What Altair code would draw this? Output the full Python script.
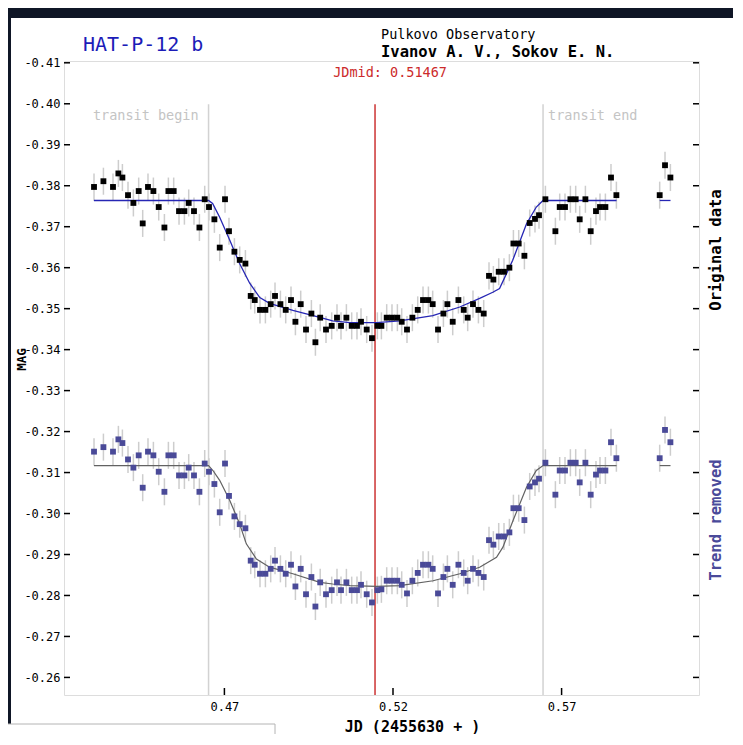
import altair as alt
import pandas as pd

# ---------------- data ----------------
jd = [0.43133, 0.43412, 0.43696, 0.43856, 0.43975, 0.44141, 0.44301, 0.44458, 0.44577, 0.44734,
      0.44894, 0.45052, 0.45221, 0.45339, 0.45496, 0.45654, 0.45814, 0.45941, 0.46098, 0.46259,
      0.46416, 0.46543, 0.46703, 0.46861, 0.47018, 0.47136, 0.47297, 0.47454, 0.47623, 0.47780,
      0.47899, 0.48056, 0.48216, 0.48373, 0.48501, 0.48661, 0.48818, 0.48975, 0.49106, 0.49263,
      0.49420, 0.49580, 0.49699, 0.49841, 0.50013, 0.50182, 0.50339, 0.50458, 0.50618, 0.50775,
      0.50932, 0.51051, 0.51220, 0.51377, 0.51537, 0.51656, 0.51813, 0.51970, 0.52130, 0.52258,
      0.52415, 0.52575, 0.52733, 0.52890, 0.53050, 0.53177, 0.53335, 0.53495, 0.53613, 0.53771,
      0.53940, 0.54097, 0.54215, 0.54372, 0.54533, 0.54690, 0.54847, 0.54977, 0.55135, 0.55292,
      0.55452, 0.55571, 0.55728, 0.55897, 0.56054, 0.56211, 0.56330, 0.56520, 0.56816, 0.56944,
      0.57101, 0.57261, 0.57418, 0.57537, 0.57706, 0.57863, 0.58020, 0.58139, 0.58299, 0.58465,
      0.58625, 0.59909, 0.60067, 0.60227]

mag_original = [-0.3797, -0.3811, -0.3797, -0.3830, -0.3820, -0.3777, -0.3758, -0.3787, -0.3708, -0.3797,
                -0.3787, -0.3748, -0.3698, -0.3787, -0.3787, -0.3738, -0.3738, -0.3758, -0.3738, -0.3698,
                -0.3767, -0.3748, -0.3718, -0.3649, -0.3767, -0.3689, -0.3639, -0.3619, -0.3610, -0.3531,
                -0.3521, -0.3497, -0.3497, -0.3511, -0.3531, -0.3511, -0.3497, -0.3521, -0.3468, -0.3511,
                -0.3449, -0.3488, -0.3418, -0.3478, -0.3449, -0.3458, -0.3478, -0.3458, -0.3478, -0.3458,
                -0.3458, -0.3468, -0.3449, -0.3428, -0.3458, -0.3458, -0.3478, -0.3478, -0.3478, -0.3468,
                -0.3449, -0.3478, -0.3497, -0.3521, -0.3521, -0.3511, -0.3449, -0.3488, -0.3511, -0.3468,
                -0.3521, -0.3497, -0.3478, -0.3511, -0.3497, -0.3488, -0.3580, -0.3571, -0.3590, -0.3590,
                -0.3600, -0.3659, -0.3659, -0.3629, -0.3709, -0.3719, -0.3728, -0.3767, -0.3689, -0.3748,
                -0.3748, -0.3767, -0.3767, -0.3718, -0.3767, -0.3689, -0.3738, -0.3748, -0.3748, -0.3820,
                -0.3777, -0.3777, -0.3850, -0.3820]

mag_trend_removed = [-0.3151, -0.3162, -0.3151, -0.3181, -0.3172, -0.3132, -0.3112, -0.3142, -0.3063, -0.3151,
                     -0.3142, -0.3102, -0.3053, -0.3142, -0.3142, -0.3093, -0.3093, -0.3112, -0.3093, -0.3053,
                     -0.3122, -0.3102, -0.3072, -0.3003, -0.3122, -0.3043, -0.2993, -0.2974, -0.2964, -0.2885,
                     -0.2875, -0.2853, -0.2853, -0.2865, -0.2885, -0.2865, -0.2853, -0.2875, -0.2822, -0.2865,
                     -0.2803, -0.2845, -0.2773, -0.2832, -0.2803, -0.2813, -0.2832, -0.2813, -0.2832, -0.2813,
                     -0.2813, -0.2826, -0.2803, -0.2783, -0.2813, -0.2815, -0.2836, -0.2836, -0.2836, -0.2826,
                     -0.2805, -0.2836, -0.2855, -0.2875, -0.2875, -0.2865, -0.2805, -0.2845, -0.2865, -0.2826,
                     -0.2875, -0.2855, -0.2836, -0.2865, -0.2855, -0.2845, -0.2935, -0.2924, -0.2944, -0.2944,
                     -0.2954, -0.3013, -0.3013, -0.2984, -0.3066, -0.3076, -0.3085, -0.3124, -0.3046, -0.3105,
                     -0.3105, -0.3124, -0.3124, -0.3076, -0.3124, -0.3046, -0.3095, -0.3105, -0.3105, -0.3174,
                     -0.3135, -0.3135, -0.3204, -0.3174]

mag_error = 0.0033

model_jd = [0.4313, 0.4653, 0.4665, 0.4686, 0.4716, 0.4745, 0.4775, 0.4805, 0.4834, 0.4903,
            0.4983, 0.5021, 0.5072, 0.5151, 0.5220, 0.5318, 0.5398, 0.5457, 0.5496, 0.5516,
            0.5555, 0.5596, 0.5625, 0.5645, 0.5863, 0.5991, 0.6023]
model_original = [-0.3764, -0.3764, -0.3757, -0.3723, -0.3667, -0.3610, -0.3562, -0.3527, -0.3513, -0.3496,
                  -0.3479, -0.3470, -0.3466, -0.3466, -0.3470, -0.3483, -0.3504, -0.3525, -0.3540, -0.3549,
                  -0.3618, -0.3707, -0.3748, -0.3764, -0.3764, -0.3764, -0.3764]
model_segment = [1] * 25 + [2] * 2

trend_model_jd = [0.4313, 0.4653, 0.4666, 0.4686, 0.4716, 0.4745, 0.4765, 0.4795, 0.4834, 0.4903,
                  0.4983, 0.5021, 0.5072, 0.5151, 0.5220, 0.5319, 0.5398, 0.5457, 0.5507, 0.5526,
                  0.5556, 0.5596, 0.5625, 0.5645, 0.5863, 0.5991, 0.6023]
trend_model = [-0.3117, -0.3117, -0.3105, -0.3081, -0.3032, -0.2975, -0.2926, -0.2889, -0.2869, -0.2853,
               -0.2832, -0.2828, -0.2824, -0.2822, -0.2824, -0.2836, -0.2853, -0.2869, -0.2893, -0.2918,
               -0.2983, -0.3064, -0.3105, -0.3117, -0.3117, -0.3117, -0.3117]
trend_segment = [1] * 25 + [2] * 2

transit_begin = 0.4653
transit_end = 0.5645
jd_mid = 0.51467
marker_top = -0.3999

y_ticks = [-0.41, -0.40, -0.39, -0.38, -0.37, -0.36, -0.35, -0.34,
           -0.33, -0.32, -0.31, -0.30, -0.29, -0.28, -0.27, -0.26]
x_ticks = [0.47, 0.52, 0.57]

# ---------------- chart ----------------
FONT = "DejaVu Sans Mono"
W, H = 635, 634
X_DOM = [0.42243, 0.61075]
Y_DOM = [-0.41044, -0.25571]

xs = alt.Scale(domain=X_DOM, nice=False, zero=False)
ys = alt.Scale(domain=Y_DOM, reverse=True, nice=False, zero=False)

xaxis = alt.Axis(values=x_ticks, format=".2f", ticks=False, domain=False, grid=False,
                 labelFont=FONT, labelFontSize=12, labelColor="black", labelPadding=6,
                 title="JD (2455630 + )", titleFont=FONT, titleFontSize=15, titleFontWeight="bold",
                 titleColor="black", titleX=348, titleY=31, titleAlign="center", titleBaseline="middle")
yaxis = alt.Axis(values=y_ticks, format=".2f", labelExpr="replace(datum.label, '\u2212', '-')",
                 ticks=False, domain=False, grid=False,
                 labelFont=FONT, labelFontSize=12, labelColor="black", labelPadding=4,
                 title="MAG", titleFont=FONT, titleFontSize=12.5, titleFontWeight="bold",
                 titleColor="black", titleX=-43, titleY=298, titleAngle=270,
                 titleAlign="center", titleBaseline="middle")

one = pd.DataFrame({"a": [0]})

orig = pd.DataFrame({"jd": jd, "mag": mag_original})
orig["lo"] = orig["mag"] - mag_error
orig["hi"] = orig["mag"] + mag_error
trend = pd.DataFrame({"jd": jd, "mag": mag_trend_removed})
trend["lo"] = trend["mag"] - mag_error
trend["hi"] = trend["mag"] + mag_error

model_df = pd.DataFrame({"jd": model_jd, "mag": model_original, "seg": model_segment})
tmodel_df = pd.DataFrame({"jd": trend_model_jd, "mag": trend_model, "seg": trend_segment})

markers = pd.DataFrame({"jd": [transit_begin, transit_end], "top": [marker_top] * 2,
                        "bot": [Y_DOM[1]] * 2})
mid = pd.DataFrame({"jd": [jd_mid], "top": [marker_top], "bot": [Y_DOM[1]]})


def X(f):
    return alt.X(f, type="quantitative", scale=xs, axis=xaxis)


def Y(f):
    return alt.Y(f, type="quantitative", scale=ys, axis=yaxis)


def px_rect(x, x2, y, y2, **kw):
    return alt.Chart(one).mark_rect(**kw).encode(
        x=alt.value(x), x2=alt.value(x2), y=alt.value(y), y2=alt.value(y2))


def px_text(txt, x, y, size, color="black", weight="normal", align="left", angle=0):
    return alt.Chart(one).mark_text(font=FONT, fontSize=size, fontWeight=weight, color=color,
                                    align=align, baseline="middle", angle=angle).encode(
        x=alt.value(x), y=alt.value(y), text=alt.value(txt))


SPACE = "#0f1626"
layers = [
    px_rect(-60, 690, -60, -43, color=SPACE),
    px_rect(-60, -53, -60, 663, color=SPACE),
    px_rect(-60, 211, 663, 700, fill="white", stroke="#b4b4b4", strokeWidth=1),
    alt.Chart(markers).mark_rule(color="#d2d2d2", strokeWidth=1.5).encode(
        x=X("jd"), y=Y("top"), y2="bot"),
    alt.Chart(mid).mark_rule(color="#cc3333", strokeWidth=1.5).encode(
        x=X("jd"), y=Y("top"), y2="bot"),
    alt.Chart(orig).mark_rule(color="#cdcdcd", strokeWidth=1.5).encode(
        x=X("jd"), y=Y("lo"), y2="hi"),
    alt.Chart(trend).mark_rule(color="#cdcdcd", strokeWidth=1.5).encode(
        x=X("jd"), y=Y("lo"), y2="hi"),
    alt.Chart(model_df).mark_line(color="#2626b4", strokeWidth=1.3).encode(
        x=X("jd"), y=Y("mag"), detail="seg:N"),
    alt.Chart(tmodel_df).mark_line(color="#626262", strokeWidth=1.2).encode(
        x=X("jd"), y=Y("mag"), detail="seg:N"),
    alt.Chart(orig).mark_square(size=34, color="black", opacity=1).encode(
        x=X("jd"), y=Y("mag")),
    alt.Chart(trend).mark_square(size=34, color="#4a4a98", opacity=1).encode(
        x=X("jd"), y=Y("mag")),
]

ytick_df = pd.DataFrame({"v": y_ticks})
xtick_df = pd.DataFrame({"t": x_ticks})
layers += [
    alt.Chart(ytick_df).mark_rule(color="black", strokeWidth=1.5).encode(
        y=Y("v"), x=alt.value(0), x2=alt.value(6)),
    alt.Chart(ytick_df).mark_rule(color="black", strokeWidth=1.5).encode(
        y=Y("v"), x=alt.value(W - 6), x2=alt.value(W)),
    alt.Chart(xtick_df).mark_rule(color="black", strokeWidth=1.5).encode(
        x=X("t"), y=alt.value(H - 7), y2=alt.value(H)),
]

tlabels = pd.DataFrame({"jd": [transit_begin, transit_end],
                        "label": ["transit begin", "transit end"]})
layers += [
    alt.Chart(tlabels.iloc[[0]]).mark_text(font=FONT, fontSize=13.5, color="#c4c4c4",
                                          align="right", baseline="middle", dx=-10).encode(
        x=X("jd"), y=alt.value(55), text="label:N"),
    alt.Chart(tlabels.iloc[[1]]).mark_text(font=FONT, fontSize=13.5, color="#c4c4c4",
                                          align="left", baseline="middle", dx=5).encode(
        x=X("jd"), y=alt.value(55), text="label:N"),
    alt.Chart(mid.assign(label=["JDmid: %.5f" % jd_mid])).mark_text(
        font=FONT, fontSize=13.5, color="#cc2a2a", align="center", baseline="middle", dx=15).encode(
        x=X("jd"), y=alt.value(12), text="label:N"),
    px_text("HAT-P-12 b", 19, -16, 20, color="#1c1cb8"),
    px_text("Pulkovo Observatory", 317, -26, 13.5),
    px_text("Ivanov A. V., Sokov E. N.", 317, -9, 15.5, weight="bold"),
    px_text("Original data", 652, 189, 15.5, weight="bold", align="center", angle=270),
    px_text("Trend removed", 652, 459, 15.5, color="#4a4a9a", weight="bold", align="center", angle=270),
]

chart = alt.layer(*layers).properties(
    width=W, height=H,
    autosize=alt.AutoSizeParams(type="none"),
    padding={"left": 56, "top": 53, "right": 34, "bottom": 39},
).configure_view(stroke="black", strokeWidth=1.5).configure(background="white")

chart.save("out.html", embed_options={"renderer": "svg", "actions": False})
